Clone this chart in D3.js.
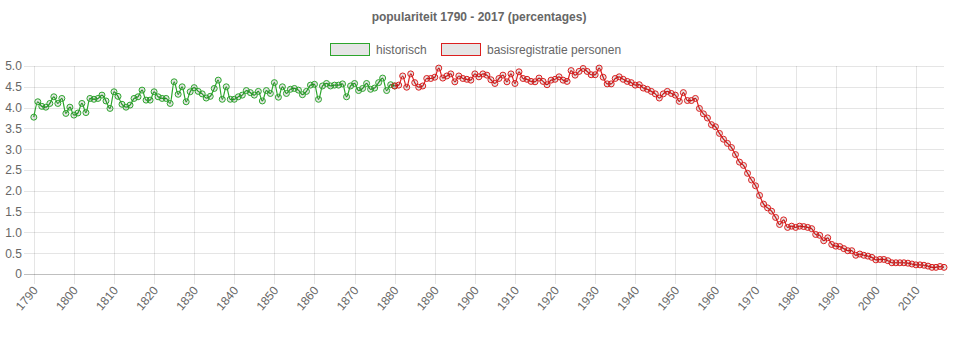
<!DOCTYPE html>
<html>
<head>
<meta charset="utf-8">
<script src="https://cdn.jsdelivr.net/npm/d3@7/dist/d3.min.js"></script>
<style>
  html, body { margin: 0; padding: 0; background: #fff; }
  svg { display: block; }
  text { font-family: "Liberation Sans", Arial, Helvetica, sans-serif; }
</style>
</head>
<body>
<svg id="chart" width="958" height="350"></svg>
<script>
const title = "populariteit 1790 - 2017 (percentages)";
const seriesNames = ["historisch", "basisregistratie personen"];
const seriesColors = ["#2ca52c", "#dc1f1f"];

const years = d3.range(1790, 2018);
const xTickLabels = d3.range(1790, 2011, 10);
const yTickValues = [0, 0.5, 1, 1.5, 2, 2.5, 3, 3.5, 4, 4.5, 5];

// historisch: 1790 - 1880
const historischStart = 1790;
const historisch = [
  3.77, 4.14, 4.03, 4.01, 4.10, 4.26, 4.10, 4.22, 3.86, 4.01,
  3.82, 3.87, 4.10, 3.88, 4.22, 4.20, 4.22, 4.30, 4.16, 3.98,
  4.38, 4.27, 4.08, 4.01, 4.06, 4.22, 4.26, 4.42, 4.18, 4.18,
  4.38, 4.26, 4.22, 4.22, 4.10, 4.62, 4.32, 4.50, 4.14, 4.38,
  4.48, 4.39, 4.33, 4.23, 4.27, 4.46, 4.66, 4.20, 4.50, 4.20,
  4.20, 4.26, 4.30, 4.41, 4.36, 4.30, 4.39, 4.16, 4.41, 4.34,
  4.60, 4.25, 4.50, 4.34, 4.44, 4.46, 4.42, 4.31, 4.39, 4.54,
  4.56, 4.20, 4.52, 4.58, 4.52, 4.54, 4.54, 4.57, 4.26, 4.52,
  4.58, 4.41, 4.46, 4.58, 4.44, 4.47, 4.60, 4.71, 4.41, 4.55,
  4.52
];

// basisregistratie personen: 1880 - 2017
const basisStart = 1880;
const basisregistratie = [
  4.52, 4.54, 4.76, 4.49, 4.81, 4.60, 4.49, 4.52, 4.70, 4.70,
  4.73, 4.95, 4.71, 4.76, 4.81, 4.62, 4.76, 4.70, 4.68, 4.66,
  4.81, 4.74, 4.81, 4.78, 4.67, 4.58, 4.70, 4.78, 4.62, 4.81,
  4.58, 4.86, 4.70, 4.68, 4.63, 4.62, 4.71, 4.63, 4.55, 4.66,
  4.68, 4.74, 4.66, 4.63, 4.89, 4.78, 4.87, 4.94, 4.87, 4.79,
  4.79, 4.95, 4.73, 4.57, 4.57, 4.70, 4.74, 4.68, 4.63, 4.60,
  4.54, 4.55, 4.47, 4.44, 4.39, 4.33, 4.23, 4.33, 4.39, 4.34,
  4.30, 4.15, 4.36, 4.17, 4.17, 4.22, 3.98, 3.85, 3.75, 3.59,
  3.54, 3.38, 3.24, 3.14, 3.04, 2.87, 2.69, 2.61, 2.42, 2.26,
  2.12, 1.89, 1.68, 1.59, 1.51, 1.36, 1.19, 1.30, 1.12, 1.15,
  1.12, 1.15, 1.14, 1.12, 1.09, 0.95, 0.93, 0.80, 0.87, 0.71,
  0.67, 0.66, 0.61, 0.56, 0.56, 0.45, 0.48, 0.45, 0.43, 0.40,
  0.34, 0.35, 0.35, 0.32, 0.27, 0.27, 0.27, 0.27, 0.26, 0.24,
  0.22, 0.22, 0.21, 0.19, 0.16, 0.16, 0.18, 0.16
];

const series = [
  { name: seriesNames[0], color: seriesColors[0], start: historischStart, values: historisch },
  { name: seriesNames[1], color: seriesColors[1], start: basisStart, values: basisregistratie }
];

const svg = d3.select("#chart");
const plotLeft = 33.8, plotRight = 944, plotTop = 66, plotBottom = 274;

const x = d3.scalePoint().domain(years).range([plotLeft, plotRight]);
const y = d3.scaleLinear().domain([0, 5]).range([plotBottom, plotTop]);

const textColor = "#666";
const gridColor = "rgba(0,0,0,0.1)";

// Title
svg.append("text")
  .attr("x", 479).attr("y", 21)
  .attr("text-anchor", "middle")
  .attr("font-size", 12).attr("font-weight", "bold")
  .attr("fill", textColor)
  .text(title);

// Legend
const legendItems = [
  { x: 330, textX: 376 },
  { x: 441, textX: 487 }
];
series.forEach((s, i) => {
  const g = svg.append("g");
  g.append("rect")
    .attr("x", legendItems[i].x + 0.5).attr("y", 43.5)
    .attr("width", 39).attr("height", 12)
    .attr("fill", "rgba(0,0,0,0.1)")
    .attr("stroke", s.color).attr("stroke-width", 1);
  g.append("text")
    .attr("x", legendItems[i].textX).attr("y", 54)
    .attr("font-size", 12).attr("fill", textColor)
    .text(s.name);
});

// Y grid + labels
const yg = svg.append("g").attr("transform", `translate(${plotRight},0)`);
const yAxis = d3.axisLeft(y).tickValues(yTickValues)
  .tickSize(plotRight - plotLeft + 10)
  .tickFormat(d => d === 0 ? "0" : d3.format(".1f")(d))
  .tickPadding(2);
yg.call(yAxis);
yg.select(".domain").remove();
yg.selectAll(".tick line")
  .attr("stroke", d => d === 0 ? "rgba(0,0,0,0.25)" : gridColor)
  .attr("shape-rendering", "crispEdges");
yg.selectAll(".tick text")
  .attr("fill", textColor).attr("font-size", 12)
  .attr("font-family", "Liberation Sans, Arial, sans-serif");

// X grid + labels
const xg = svg.append("g").attr("transform", `translate(0,${plotTop})`);
const xAxis = d3.axisBottom(x).tickValues(xTickLabels)
  .tickSize(plotBottom - plotTop + 10)
  .tickPadding(3);
xg.call(xAxis);
xg.select(".domain").remove();
xg.selectAll(".tick line")
  .attr("stroke", gridColor)
  .attr("shape-rendering", "crispEdges");
xg.selectAll(".tick text")
  .attr("fill", textColor).attr("font-size", 12)
  .attr("font-family", "Liberation Sans, Arial, sans-serif")
  .attr("text-anchor", "end")
  .attr("y", 0)
  .attr("dy", "0.35em")
  .attr("transform", `translate(1,${plotBottom - plotTop + 14}) rotate(-50)`);

// Lines and points
const line = d3.line()
  .x(d => x(d.year))
  .y(d => y(d.value))
  .curve(d3.curveMonotoneX);

series.forEach(s => {
  const pts = s.values.map((v, i) => ({ year: s.start + i, value: v }));
  svg.append("path")
    .datum(pts)
    .attr("d", line)
    .attr("fill", "none")
    .attr("stroke", s.color)
    .attr("stroke-width", 1.2);
  svg.append("g").selectAll("circle")
    .data(pts).join("circle")
    .attr("cx", d => x(d.year))
    .attr("cy", d => y(d.value))
    .attr("r", 3)
    .attr("fill", "rgba(0,0,0,0.1)")
    .attr("stroke", s.color)
    .attr("stroke-width", 1);
});
</script>
</body>
</html>
